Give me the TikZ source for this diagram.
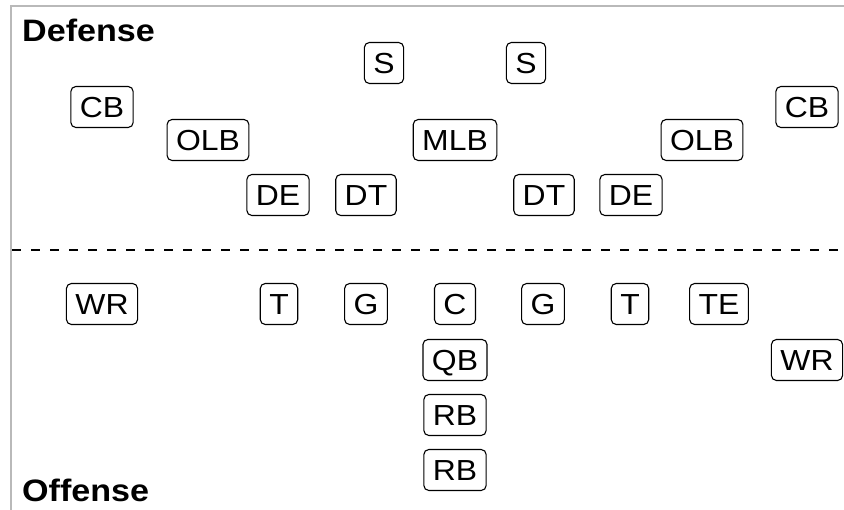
\documentclass[tikz,border=0pt]{standalone}
\usepackage{fontspec}
\setmainfont{Liberation Sans}[FakeStretch=1.1]
\begin{document}
\begin{tikzpicture}[x=1pt,y=-1pt,
  player/.style={draw=black, line width=1.1pt, rounded corners=5pt,
    font=\fontsize{29}{29}\selectfont, text height=21pt, text depth=0pt,
    inner xsep=9pt, inner ysep=10pt},
  side/.style={font=\fontsize{31}{31}\selectfont\bfseries, anchor=west, inner sep=0pt, text height=22pt, text depth=0pt},
  frame/.style={draw={rgb,255:red,185;green,185;blue,185}, line width=2pt}]
\useasboundingbox (0,0) rectangle (844,510);
\coordinate (fTL) at (11,6);
\coordinate (fTR) at (844,6);
\coordinate (fBL) at (11,510);
\draw[frame] (fTR) -- (fTL) -- (fBL);
% labels
\node[side] (def) at (22,31) {Defense};
\node[side] (off) at (22,491) {Offense};
% defense
\node[player] (s1) at (384,63) {S};
\node[player] (s2) at (526,63) {S};
\node[player] (cb1) at (102,107) {CB};
\node[player] (cb2) at (807,107) {CB};
\node[player] (olb1) at (208,140) {OLB};
\node[player] (mlb) at (455,140) {MLB};
\node[player] (olb2) at (702,140) {OLB};
\node[player] (de1) at (278,195) {DE};
\node[player] (dt1) at (366,195) {DT};
\node[player] (dt2) at (544,195) {DT};
\node[player] (de2) at (631,195) {DE};
% line of scrimmage
\coordinate (l1) at (12,250);
\coordinate (l2) at (844,250);
\draw[line width=2pt, dash pattern=on 9pt off 10pt] (l1) -- (l2);
% offense
\node[player] (wr1) at (102,304) {WR};
\node[player] (t1) at (279,304) {T};
\node[player] (g1) at (366,304) {G};
\node[player] (c) at (455,304) {C};
\node[player] (g2) at (543,304) {G};
\node[player] (t2) at (630,304) {T};
\node[player] (te) at (719,304) {TE};
\node[player] (qb) at (455,360) {QB};
\node[player] (wr2) at (807,360) {WR};
\node[player] (rb1) at (455,415) {RB};
\node[player] (rb2) at (455,470) {RB};
\end{tikzpicture}
\end{document}
